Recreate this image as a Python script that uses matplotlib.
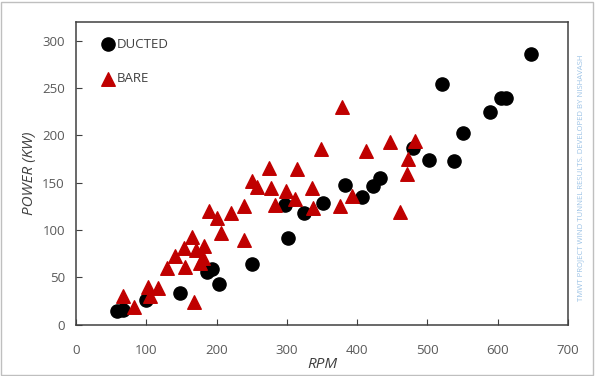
import matplotlib
matplotlib.use("Agg")
import matplotlib.pyplot as plt
from matplotlib.patches import Rectangle

# wind tunnel readings
ducted_rpm = [58, 67, 100, 148, 186, 193, 203, 250, 298, 301, 324, 352,
              383, 407, 423, 432, 479, 502, 538, 521, 551, 589, 605, 612, 648]
ducted_kw = [15, 16, 26, 34, 56, 59, 43, 64, 126, 92, 118, 129,
             148, 135, 147, 155, 187, 174, 173, 254, 203, 225, 239, 239, 286]

bare_rpm = [67, 82, 103, 105, 117, 129, 141, 154, 155, 165, 168, 171, 176,
            182, 181, 189, 201, 207, 220, 239, 239, 250, 257, 275, 277, 283,
            299, 311, 315, 336, 337, 348, 375, 379, 392, 412, 447, 461, 471,
            473, 482]
bare_kw = [30, 18.5, 39.5, 30, 38.5, 60, 73, 81, 61, 92.5, 24.5, 79, 65,
           83, 70, 120, 113, 97, 118, 125, 90, 152, 146, 166, 144, 126,
           141, 133, 164, 144, 123, 186, 125, 230, 136, 184, 193, 119, 159,
           175, 194]

xticks = [0, 100, 200, 300, 400, 500, 600, 700]
yticks = [0, 50, 100, 150, 200, 250, 300]

plt.rcParams['font.family'] = ['Open Sans', 'DejaVu Sans']

fig = plt.figure(figsize=(5.95, 3.76), dpi=100)
ax = fig.add_axes([0.1277, 0.1362, 0.8269, 0.8061])

ax.scatter(ducted_rpm, ducted_kw, s=90, marker='o', color='black',
           label='DUCTED', zorder=3)
ax.scatter(bare_rpm, bare_kw, s=95, marker='^', color='#C00000',
           label='BARE', zorder=3)

ax.set_xlim(0, 700)
ax.set_ylim(0, 320)
ax.set_xticks(xticks)
ax.set_yticks(yticks)
ax.tick_params(direction='in', length=4, colors='#404040', labelcolor='#595959',
               labelsize=9.5)
ax.tick_params(axis='x', pad=14)
ax.tick_params(axis='y', pad=8)
for sp in ax.spines.values():
    sp.set_color('#404040')
    sp.set_linewidth(1.1)

ax.set_xlabel('RPM', fontsize=11, style='italic', color='#404040', labelpad=0)
ax.set_ylabel('POWER (KW)', fontsize=11, style='italic', color='#404040', labelpad=4)

leg = ax.legend(loc='upper left', bbox_to_anchor=(0.022, 0.99), frameon=False,
                labelspacing=1.6, handletextpad=0.1, handlelength=1.2,
                fontsize=9.5, borderaxespad=0.6)
for t in leg.get_texts():
    t.set_color('#404040')

fig.text(581 / 595, 1 - 178 / 376,
         'TMWT PROJECT WIND TUNNEL RESULTS. DEVELOPED BY NISHAVASH',
         rotation=90, ha='center', va='center', fontsize=5.6, color='#9DC3E6')

fig.patches.append(Rectangle((0.002, 0.003), 0.995, 0.993, transform=fig.transFigure,
                             fill=False, edgecolor='#BFBFBF', linewidth=1))

fig.savefig('out.png', dpi=100)
